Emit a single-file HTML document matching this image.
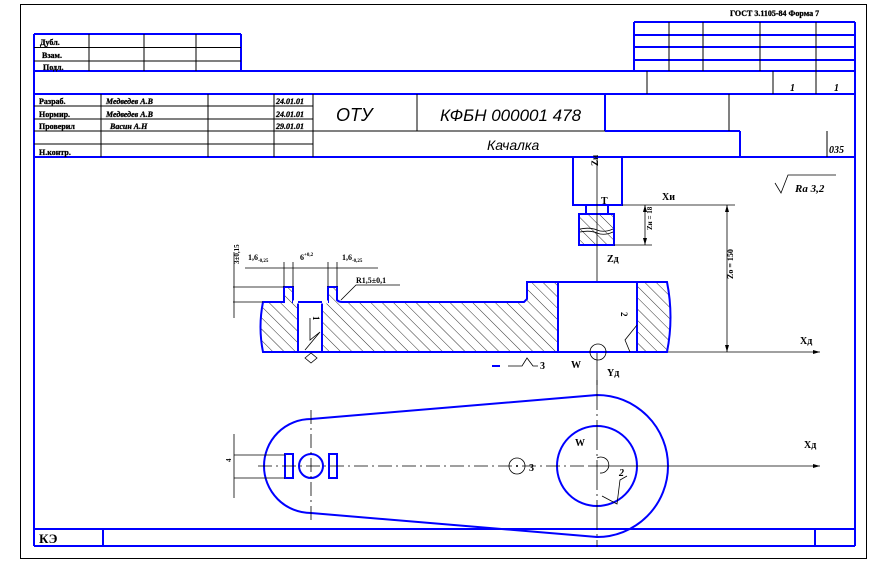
<!DOCTYPE html>
<html><head><meta charset="utf-8"><style>
body{margin:0;background:#fff;width:871px;height:563px;overflow:hidden}
svg{display:block}
text{font-family:"Liberation Serif","DejaVu Serif",serif;font-weight:bold;fill:#000}
.s{font-size:8px;stroke:#000;stroke-width:0.3}
.it{font-family:"Liberation Sans",sans-serif;font-style:italic;font-weight:normal}
</style></head><body>
<svg width="871" height="563" viewBox="0 0 871 563" xmlns="http://www.w3.org/2000/svg">
<defs>
<pattern id="h" patternUnits="userSpaceOnUse" width="8" height="8" patternTransform="rotate(-45)">
<line x1="0" y1="0" x2="0" y2="8" stroke="#000" stroke-width="0.8"/>
</pattern>
</defs>
<rect x="20.5" y="4.5" width="846" height="554" fill="none" stroke="#000" stroke-width="1"/>
<g stroke="#00f" stroke-width="2" fill="none">
<line x1="34" y1="34" x2="34" y2="546"/>
<line x1="855" y1="22" x2="855" y2="546"/>
<line x1="34" y1="546" x2="855" y2="546"/>
<line x1="34" y1="529" x2="855" y2="529"/>
<line x1="103" y1="529" x2="103" y2="546"/>
<line x1="815" y1="529" x2="815" y2="546"/>
<line x1="34" y1="34" x2="241" y2="34"/>
<line x1="241" y1="34" x2="241" y2="71"/>
<line x1="34" y1="71" x2="855" y2="71"/>
<line x1="34" y1="94" x2="855" y2="94"/>
<line x1="634" y1="22" x2="855" y2="22"/>
<line x1="634" y1="22" x2="634" y2="71"/>
<line x1="634" y1="35" x2="855" y2="35"/>
<line x1="634" y1="47" x2="855" y2="47"/>
<line x1="634" y1="60" x2="855" y2="60"/>
<line x1="605" y1="94" x2="605" y2="131"/>
<line x1="605" y1="131" x2="740" y2="131"/>
<line x1="740" y1="131" x2="740" y2="157"/>
<line x1="740" y1="157" x2="855" y2="157"/>
<line x1="34" y1="157" x2="740" y2="157"/>
</g>
<g stroke="#000" stroke-width="1" fill="none">
<line x1="34" y1="47.5" x2="241" y2="47.5"/>
<line x1="34" y1="61" x2="241" y2="61"/>
<line x1="89" y1="34" x2="89" y2="71"/>
<line x1="144" y1="34" x2="144" y2="71"/>
<line x1="196" y1="34" x2="196" y2="71"/>
<line x1="669" y1="22" x2="669" y2="71"/>
<line x1="703" y1="22" x2="703" y2="71"/>
<line x1="760" y1="22" x2="760" y2="71"/>
<line x1="816" y1="22" x2="816" y2="71"/>
<line x1="647" y1="71" x2="647" y2="94"/>
<line x1="773" y1="71" x2="773" y2="94"/>
<line x1="816" y1="71" x2="816" y2="94"/>
<line x1="34" y1="106" x2="313" y2="106"/>
<line x1="34" y1="119" x2="313" y2="119"/>
<line x1="34" y1="131" x2="605" y2="131"/>
<line x1="34" y1="144" x2="313" y2="144"/>
<line x1="101" y1="94" x2="101" y2="157"/>
<line x1="208" y1="94" x2="208" y2="157"/>
<line x1="274" y1="94" x2="274" y2="157"/>
<line x1="313" y1="94" x2="313" y2="157"/>
<line x1="417" y1="94" x2="417" y2="131"/>
<line x1="729" y1="94" x2="729" y2="131"/>
<line x1="827" y1="131" x2="827" y2="157"/>
</g>
<text x="730" y="16" class="s" font-size="7">ГОСТ 3.1105-84  Форма 7</text>
<text x="40" y="45" class="s">Дубл.</text>
<text x="42" y="58" class="s">Взам.</text>
<text x="43" y="70" class="s">Подл.</text>
<text x="39" y="104" class="s">Разраб.</text>
<text x="39" y="117" class="s">Нормир.</text>
<text x="39" y="129" class="s">Проверил</text>
<text x="39" y="155" class="s">Н.контр.</text>
<text x="106" y="104" class="s" font-style="italic">Медведев  А.В</text>
<text x="106" y="117" class="s" font-style="italic">Медведев  А.В</text>
<text x="110" y="129" class="s" font-style="italic">Васин А.Н</text>
<text x="276" y="104" class="s" font-style="italic" font-size="6.5">24.01.01</text>
<text x="276" y="117" class="s" font-style="italic" font-size="6.5">24.01.01</text>
<text x="276" y="129" class="s" font-style="italic" font-size="6.5">29.01.01</text>
<text x="336" y="121" class="it" font-size="18">ОТУ</text>
<text x="440" y="121" class="it" font-size="17">КФБН  000001  478</text>
<text x="487" y="150" class="it" font-size="14">Качалка</text>
<text x="790" y="91" font-size="10" font-style="italic">1</text>
<text x="834" y="91" font-size="10" font-style="italic">1</text>
<text x="829" y="153" font-size="10" font-style="italic">035</text>
<text x="39" y="543" font-size="13">КЭ</text>
<polyline points="775,183 781,193 788,175 836,175" fill="none" stroke="#000" stroke-width="0.8"/>
<text x="795" y="192" font-size="11" font-style="italic">Ra 3,2</text>
<g fill="none" stroke="#00f" stroke-width="2">
<rect x="573" y="157" width="49" height="48"/>
<rect x="586" y="205" width="22" height="9"/>
<rect x="579" y="214" width="35" height="31" fill="url(#h)"/>
</g>
<path d="M580,229 q10,-2 17,1 t16,-1" stroke="#000" fill="none" stroke-width="0.8"/>
<path d="M580,232 q10,-2 17,1 t16,-1" stroke="#000" fill="none" stroke-width="0.8"/>
<g stroke="#000" stroke-width="0.8" fill="none">
<line x1="597" y1="160" x2="597" y2="385"/>
<line x1="622" y1="205" x2="735" y2="205"/>
<line x1="614" y1="245" x2="652" y2="245"/>
<line x1="645" y1="205" x2="645" y2="245"/>
<line x1="727" y1="205" x2="727" y2="352"/>
<line x1="665" y1="352" x2="820" y2="352"/>
</g>
<g fill="#000">
<path d="M645,205 l-2,7 h4z M645,245 l-2,-7 h4z M727,205 l-2,7 h4z M727,352 l-2,-7 h4z M820,352 l-7,-2 v4z M820,466 l-7,-2 v4z M597,282 l-2,7 h4z"/>
</g>
<text x="594" y="178" font-size="9" transform="rotate(-90 590 170)">Zи</text>
<text x="601" y="204" font-size="10">T</text>
<text x="662" y="200" font-size="10">Xи</text>
<text x="640" y="242" font-size="7" transform="rotate(-90 640 230)">Zи = 18</text>
<text x="607" y="262" font-size="10">Zд</text>
<text x="722" y="298" font-size="8" transform="rotate(-90 718 283)">Zо = 150</text>
<text x="800" y="344" font-size="10">Xд</text>
<path d="M263,302 L284,302 L284,287 L293,287 L293,302 L328,302 L328,287 L337,287 L337,300 Q339,302 342,302 L524,302 L527,299 L527,282 L667,282 Q674,317 667,352 L263,352 Q258,327 263,302 Z" fill="url(#h)" stroke="#00f" stroke-width="2"/>
<rect x="298" y="302" width="24" height="50" fill="#fff" stroke="#00f" stroke-width="2"/>
<rect x="558" y="282" width="79" height="70" fill="#fff" stroke="#00f" stroke-width="2"/>
<line x1="293" y1="302" x2="328" y2="302" stroke="#fff" stroke-width="3"/>
<line x1="298" y1="302" x2="322" y2="302" stroke="#00f" stroke-width="2"/>
<g stroke="#000" stroke-width="0.8" fill="none">
<line x1="245" y1="268" x2="378" y2="268"/>
<line x1="284" y1="262" x2="284" y2="287"/>
<line x1="293" y1="262" x2="293" y2="287"/>
<line x1="328" y1="262" x2="328" y2="287"/>
<line x1="337" y1="262" x2="337" y2="287"/>
<line x1="233" y1="287" x2="284" y2="287"/>
<line x1="233" y1="302" x2="263" y2="302"/>
<line x1="234" y1="252" x2="234" y2="318"/>
<polyline points="341,300 356,285 400,285"/>
<polyline points="310,318 310,340 320,332 305,350"/>
<polyline points="637,325 625,340 630,352"/>
<path d="M305,358 l6,-5 l6,5 l-6,5 z"/>
<polyline points="508,366 522,366 527,358 533,366 538,366"/>
<circle cx="598" cy="352" r="8"/>
</g>
<line x1="492" y1="366" x2="500" y2="366" stroke="#00f" stroke-width="2"/>
<text x="248" y="260" font-size="8">1,6<tspan font-size="5" dy="2">-0,25</tspan></text>
<text x="300" y="260" font-size="8">6<tspan font-size="5" dy="-4">+0,2</tspan></text>
<text x="342" y="260" font-size="8">1,6<tspan font-size="5" dy="2">-0,25</tspan></text>
<text x="231" y="280" font-size="7" transform="rotate(-90 227 268)">3±0,15</text>
<text x="356" y="283" font-size="8">R1,5±0,1</text>
<text x="313" y="316" font-size="9" transform="rotate(90 313 316)">1</text>
<text x="625" y="316" font-size="9" transform="rotate(90 625 312)">2</text>
<text x="540" y="369" font-size="10" font-weight="normal">3</text>
<text x="571" y="368" font-size="10">W</text>
<text x="607" y="376" font-size="10">Yд</text>
<path d="M311,419 L597,395 A71,71 0 0 1 597,537 L311,513 A47,47 0 0 1 311,419 Z" fill="none" stroke="#00f" stroke-width="2"/>
<circle cx="597" cy="466" r="40" fill="none" stroke="#00f" stroke-width="2"/>
<circle cx="311" cy="466" r="12" fill="none" stroke="#00f" stroke-width="2"/>
<rect x="285" y="454" width="8" height="24" fill="none" stroke="#00f" stroke-width="2"/>
<rect x="329" y="454" width="8" height="24" fill="none" stroke="#00f" stroke-width="2"/>
<g stroke="#000" stroke-width="0.8" fill="none">
<line x1="258" y1="466" x2="590" y2="466" stroke-dasharray="14,4,2,4"/>
<line x1="590" y1="466" x2="820" y2="466"/>
<line x1="311" y1="410" x2="311" y2="520" stroke-dasharray="14,4,2,4"/>
<line x1="597" y1="380" x2="597" y2="547" stroke-dasharray="30,4,2,4"/>
<circle cx="517" cy="466" r="8"/>
<path d="M597,458 a8,8 0 1 1 3,15"/>
<line x1="234" y1="434" x2="234" y2="498"/>
<line x1="234" y1="455" x2="285" y2="455"/>
<line x1="234" y1="478" x2="285" y2="478"/>
<polyline points="602,496 617,504 620,480 627,476"/>
</g>
<circle cx="517" cy="466" r="1" fill="#000"/>
<text x="529" y="471" font-size="10" font-weight="normal">3</text>
<text x="575" y="446" font-size="10">W</text>
<text x="804" y="448" font-size="10">Xд</text>
<text x="619" y="476" font-size="10" font-weight="normal" font-style="italic">2</text>
<text x="227" y="466" font-size="7" transform="rotate(-90 227 462)">4</text>
</svg>
</body></html>
